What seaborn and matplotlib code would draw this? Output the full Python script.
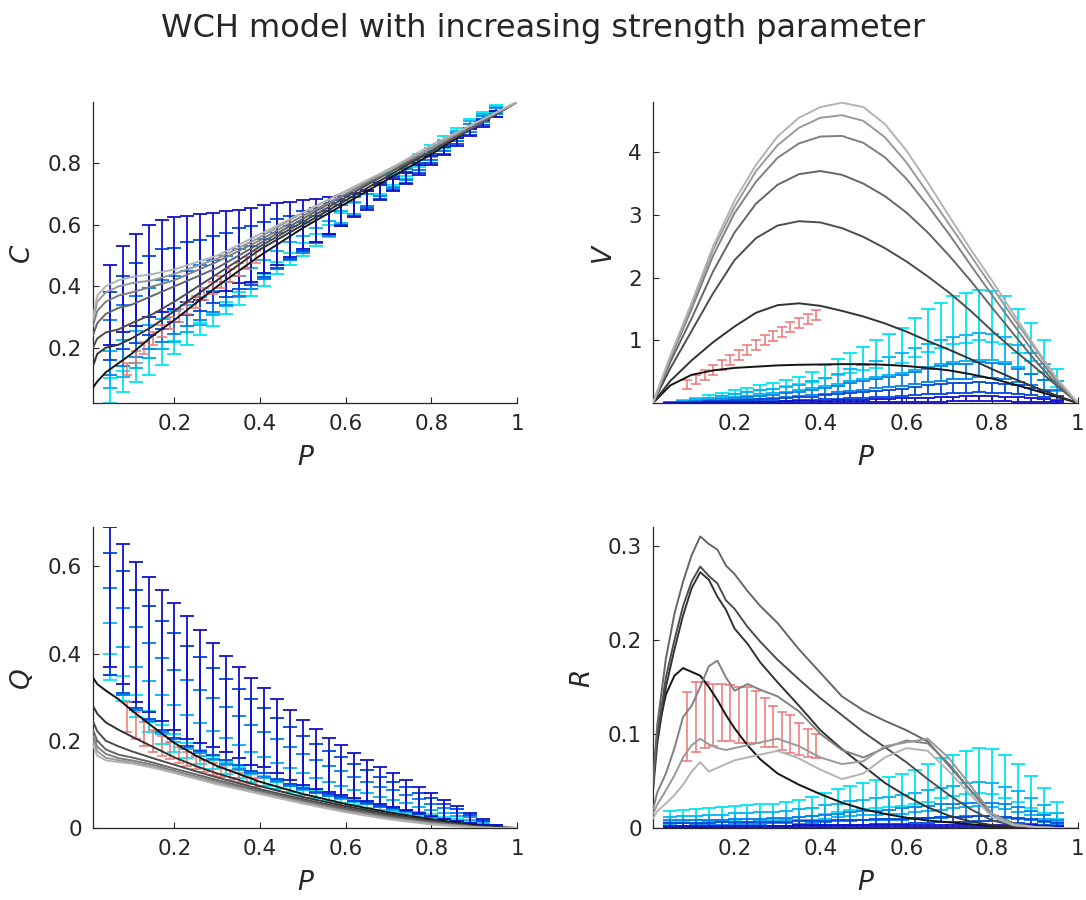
import matplotlib
matplotlib.use("Agg")
import matplotlib.pyplot as plt
import seaborn as sns

# ---------------- data ----------------
# bin centres of the simulated (blue) error bars, shared by all panels
p_bins = [0.05, 0.08, 0.11, 0.14, 0.17, 0.20, 0.23, 0.26, 0.29, 0.32, 0.35, 0.38, 0.41, 0.44, 0.47, 0.50,
          0.53, 0.56, 0.59, 0.62, 0.65, 0.68, 0.71, 0.74, 0.77, 0.80, 0.83, 0.86, 0.89, 0.92, 0.95]
# bin centres of the empirical (red) error bars
p_red = [0.09, 0.11, 0.13, 0.15, 0.17, 0.19, 0.21, 0.23, 0.25, 0.27, 0.29, 0.31, 0.33, 0.35, 0.37, 0.39]

# --- panel C ---
p_c = [0.01, 0.02, 0.04, 0.07, 0.1, 0.15, 0.2, 0.3, 0.4, 0.5, 0.6, 0.7, 0.8, 0.9, 1.0]
c_model = [
    [0.07, 0.09, 0.12, 0.15, 0.18, 0.24, 0.29, 0.40, 0.50, 0.59, 0.67, 0.75, 0.83, 0.92, 1.0],
    [0.14, 0.18, 0.20, 0.21, 0.23, 0.27, 0.32, 0.42, 0.52, 0.60, 0.68, 0.76, 0.84, 0.92, 1.0],
    [0.20, 0.23, 0.25, 0.26, 0.28, 0.31, 0.35, 0.44, 0.53, 0.61, 0.69, 0.77, 0.84, 0.92, 1.0],
    [0.24, 0.28, 0.31, 0.33, 0.34, 0.37, 0.40, 0.46, 0.54, 0.62, 0.70, 0.77, 0.85, 0.92, 1.0],
    [0.27, 0.32, 0.35, 0.37, 0.38, 0.40, 0.42, 0.48, 0.55, 0.63, 0.70, 0.78, 0.85, 0.93, 1.0],
    [0.29, 0.35, 0.38, 0.40, 0.41, 0.42, 0.44, 0.49, 0.56, 0.64, 0.71, 0.78, 0.85, 0.93, 1.0],
    [0.30, 0.37, 0.40, 0.42, 0.43, 0.44, 0.455, 0.50, 0.57, 0.64, 0.71, 0.78, 0.86, 0.93, 1.0],
]
c_blue_mean = [
    [0.06, 0.09, 0.12, 0.14, 0.17, 0.20, 0.23, 0.26, 0.29, 0.33, 0.36, 0.39, 0.42, 0.46, 0.49, 0.52,
     0.55, 0.58, 0.62, 0.65, 0.68, 0.72, 0.75, 0.78, 0.81, 0.84, 0.87, 0.90, 0.93, 0.955, 0.98],
    [0.13, 0.165, 0.195, 0.22, 0.245, 0.27, 0.295, 0.32, 0.345, 0.375, 0.40, 0.425, 0.455, 0.485, 0.515, 0.54,
     0.565, 0.59, 0.625, 0.655, 0.68, 0.715, 0.745, 0.77, 0.80, 0.83, 0.86, 0.89, 0.925, 0.95, 0.975],
    [0.20, 0.24, 0.27, 0.295, 0.32, 0.34, 0.36, 0.38, 0.40, 0.42, 0.445, 0.46, 0.49, 0.515, 0.54, 0.56,
     0.585, 0.605, 0.63, 0.66, 0.685, 0.715, 0.74, 0.765, 0.795, 0.825, 0.855, 0.885, 0.915, 0.945, 0.97],
    [0.27, 0.315, 0.345, 0.37, 0.39, 0.405, 0.425, 0.435, 0.455, 0.47, 0.49, 0.50, 0.52, 0.54, 0.56, 0.58,
     0.60, 0.62, 0.64, 0.665, 0.685, 0.71, 0.735, 0.755, 0.785, 0.815, 0.845, 0.875, 0.905, 0.935, 0.96],
    [0.34, 0.39, 0.42, 0.45, 0.465, 0.475, 0.49, 0.495, 0.51, 0.515, 0.53, 0.535, 0.555, 0.57, 0.585, 0.60,
     0.615, 0.63, 0.645, 0.665, 0.68, 0.705, 0.73, 0.75, 0.78, 0.81, 0.84, 0.87, 0.90, 0.93, 0.96],
]
c_blue_err = [
    [0.04, 0.035, 0.03, 0.028, 0.025, 0.022, 0.02, 0.02, 0.02, 0.02, 0.02, 0.02, 0.02, 0.02, 0.02, 0.02,
     0.02, 0.02, 0.02, 0.02, 0.02, 0.02, 0.02, 0.02, 0.02, 0.02, 0.018, 0.016, 0.014, 0.012, 0.01],
    [0.06, 0.06, 0.06, 0.055, 0.05, 0.05, 0.045, 0.045, 0.04, 0.04, 0.035, 0.035, 0.03, 0.03, 0.028, 0.025,
     0.025, 0.022, 0.02, 0.02, 0.02, 0.02, 0.02, 0.02, 0.02, 0.02, 0.018, 0.016, 0.014, 0.012, 0.01],
    [0.09, 0.10, 0.10, 0.10, 0.10, 0.095, 0.09, 0.09, 0.085, 0.08, 0.075, 0.07, 0.065, 0.06, 0.055, 0.05,
     0.045, 0.04, 0.035, 0.03, 0.025, 0.02, 0.02, 0.018, 0.016, 0.015, 0.014, 0.013, 0.012, 0.011, 0.01],
    [0.11, 0.12, 0.13, 0.13, 0.13, 0.12, 0.12, 0.115, 0.11, 0.105, 0.10, 0.095, 0.09, 0.08, 0.07, 0.065,
     0.055, 0.05, 0.04, 0.035, 0.03, 0.025, 0.02, 0.018, 0.016, 0.015, 0.014, 0.013, 0.012, 0.011, 0.01],
    [0.13, 0.14, 0.15, 0.15, 0.15, 0.15, 0.14, 0.14, 0.13, 0.13, 0.12, 0.12, 0.11, 0.10, 0.09, 0.08,
     0.07, 0.06, 0.05, 0.04, 0.03, 0.025, 0.02, 0.018, 0.016, 0.015, 0.014, 0.013, 0.012, 0.011, 0.01],
]
c_red = [0.13, 0.17, 0.20, 0.23, 0.255, 0.28, 0.305, 0.33, 0.35, 0.375, 0.395, 0.415, 0.435, 0.455, 0.475, 0.495]
c_red_err = [0.02, 0.02, 0.02, 0.02, 0.02, 0.02, 0.02, 0.02, 0.02, 0.02, 0.02, 0.02, 0.02, 0.02, 0.02, 0.02]

# --- panel V ---
p_v = [0.01, 0.05, 0.1, 0.15, 0.2, 0.25, 0.3, 0.35, 0.4, 0.45, 0.5, 0.55, 0.6, 0.65, 0.7, 0.75, 0.8, 0.85, 0.9, 0.95, 1.0]
v_model = [
    [0, 0.28, 0.45, 0.52, 0.56, 0.58, 0.60, 0.61, 0.615, 0.62, 0.62, 0.61, 0.59, 0.56, 0.52, 0.46, 0.39, 0.30, 0.20, 0.10, 0],
    [0, 0.35, 0.68, 0.97, 1.22, 1.44, 1.56, 1.59, 1.55, 1.47, 1.38, 1.27, 1.14, 0.99, 0.85, 0.70, 0.54, 0.39, 0.25, 0.12, 0],
    [0, 0.55, 1.15, 1.75, 2.28, 2.63, 2.83, 2.90, 2.88, 2.79, 2.65, 2.47, 2.26, 2.02, 1.76, 1.47, 1.15, 0.85, 0.57, 0.28, 0],
    [0, 0.65, 1.35, 2.10, 2.72, 3.18, 3.48, 3.65, 3.70, 3.64, 3.50, 3.30, 3.04, 2.72, 2.35, 1.95, 1.52, 1.10, 0.68, 0.30, 0],
    [0, 0.70, 1.50, 2.35, 3.03, 3.53, 3.91, 4.14, 4.25, 4.26, 4.15, 3.92, 3.58, 3.15, 2.69, 2.20, 1.72, 1.25, 0.78, 0.35, 0],
    [0, 0.72, 1.55, 2.45, 3.13, 3.70, 4.11, 4.39, 4.55, 4.59, 4.50, 4.24, 3.84, 3.35, 2.85, 2.35, 1.85, 1.35, 0.87, 0.38, 0],
    [0, 0.75, 1.60, 2.50, 3.23, 3.80, 4.25, 4.55, 4.72, 4.79, 4.72, 4.45, 4.03, 3.52, 2.98, 2.45, 1.95, 1.42, 0.90, 0.40, 0],
]
v_blue_mean = [
    [0.015, 0.04, 0.065, 0.10, 0.135, 0.17, 0.205, 0.24, 0.275, 0.32, 0.36, 0.42, 0.50, 0.57, 0.64, 0.71,
     0.78, 0.85, 0.92, 1.04, 1.16, 1.24, 1.32, 1.35, 1.40, 1.38, 1.32, 1.15, 0.97, 0.75, 0.40],
    [0.01, 0.028, 0.045, 0.07, 0.095, 0.12, 0.145, 0.17, 0.19, 0.22, 0.25, 0.29, 0.34, 0.39, 0.44, 0.49,
     0.54, 0.59, 0.64, 0.70, 0.76, 0.81, 0.86, 0.88, 0.90, 0.89, 0.85, 0.75, 0.63, 0.49, 0.27],
    [0.006, 0.016, 0.026, 0.04, 0.055, 0.068, 0.082, 0.095, 0.108, 0.125, 0.14, 0.165, 0.195, 0.225, 0.255, 0.28,
     0.31, 0.335, 0.36, 0.40, 0.44, 0.47, 0.50, 0.51, 0.53, 0.52, 0.50, 0.44, 0.37, 0.29, 0.16],
    [0.003, 0.008, 0.013, 0.019, 0.026, 0.032, 0.039, 0.045, 0.052, 0.06, 0.067, 0.078, 0.092, 0.105, 0.118, 0.13,
     0.145, 0.158, 0.17, 0.19, 0.21, 0.225, 0.24, 0.245, 0.25, 0.245, 0.235, 0.21, 0.18, 0.14, 0.08],
    [0.001, 0.002, 0.004, 0.005, 0.007, 0.009, 0.011, 0.012, 0.014, 0.016, 0.018, 0.021, 0.025, 0.028, 0.032, 0.035,
     0.039, 0.042, 0.046, 0.05, 0.055, 0.06, 0.064, 0.066, 0.068, 0.066, 0.063, 0.056, 0.048, 0.038, 0.022],
]
v_blue_err = [
    [0.005, 0.01, 0.015, 0.02, 0.025, 0.03, 0.035, 0.04, 0.045, 0.05, 0.06, 0.08, 0.10, 0.13, 0.16, 0.19,
     0.22, 0.25, 0.28, 0.31, 0.34, 0.36, 0.38, 0.40, 0.40, 0.40, 0.38, 0.35, 0.30, 0.25, 0.15],
    [0.004, 0.008, 0.012, 0.016, 0.02, 0.024, 0.028, 0.032, 0.036, 0.04, 0.045, 0.055, 0.065, 0.08, 0.095, 0.11,
     0.125, 0.14, 0.155, 0.17, 0.18, 0.19, 0.20, 0.21, 0.21, 0.21, 0.20, 0.18, 0.16, 0.13, 0.08],
    [0.003, 0.006, 0.009, 0.012, 0.015, 0.018, 0.021, 0.024, 0.027, 0.03, 0.033, 0.038, 0.045, 0.052, 0.06, 0.068,
     0.076, 0.084, 0.09, 0.10, 0.11, 0.115, 0.12, 0.12, 0.12, 0.12, 0.115, 0.105, 0.09, 0.075, 0.05],
    [0.002, 0.004, 0.006, 0.008, 0.01, 0.012, 0.014, 0.016, 0.018, 0.02, 0.022, 0.025, 0.03, 0.035, 0.04, 0.045,
     0.05, 0.055, 0.06, 0.065, 0.07, 0.075, 0.08, 0.08, 0.08, 0.08, 0.075, 0.07, 0.06, 0.05, 0.035],
    [0.001, 0.002, 0.003, 0.004, 0.005, 0.006, 0.007, 0.008, 0.009, 0.01, 0.011, 0.013, 0.015, 0.017, 0.019, 0.021,
     0.023, 0.025, 0.027, 0.03, 0.033, 0.036, 0.038, 0.04, 0.04, 0.04, 0.038, 0.035, 0.03, 0.025, 0.018],
]
v_red = [0.29, 0.37, 0.45, 0.53, 0.61, 0.69, 0.77, 0.85, 0.93, 1.00, 1.07, 1.14, 1.21, 1.28, 1.34, 1.40]
v_red_err = [0.07, 0.07, 0.08, 0.08, 0.08, 0.08, 0.08, 0.08, 0.08, 0.08, 0.08, 0.08, 0.08, 0.08, 0.08, 0.08]

# --- panel Q ---
p_q = [0.01, 0.02, 0.04, 0.07, 0.1, 0.15, 0.2, 0.25, 0.3, 0.4, 0.5, 0.6, 0.7, 0.8, 0.9, 0.95, 1.0]
q_model = [
    [0.345, 0.33, 0.315, 0.295, 0.27, 0.232, 0.195, 0.166, 0.142, 0.106, 0.078, 0.055, 0.036, 0.02, 0.007, 0.002, 0.0],
    [0.28, 0.262, 0.242, 0.225, 0.21, 0.186, 0.162, 0.142, 0.125, 0.096, 0.071, 0.05, 0.032, 0.017, 0.005, 0.001, 0.0],
    [0.245, 0.222, 0.20, 0.187, 0.176, 0.16, 0.145, 0.13, 0.116, 0.089, 0.066, 0.046, 0.029, 0.015, 0.004, 0.001, 0.0],
    [0.225, 0.20, 0.18, 0.168, 0.162, 0.15, 0.136, 0.123, 0.11, 0.085, 0.063, 0.043, 0.026, 0.013, 0.003, 0.0, 0.0],
    [0.212, 0.186, 0.17, 0.16, 0.155, 0.145, 0.131, 0.118, 0.106, 0.082, 0.06, 0.04, 0.024, 0.011, 0.002, 0.0, 0.0],
    [0.20, 0.176, 0.161, 0.155, 0.151, 0.141, 0.128, 0.115, 0.103, 0.08, 0.058, 0.038, 0.022, 0.01, 0.002, 0.0, 0.0],
    [0.19, 0.166, 0.155, 0.151, 0.148, 0.138, 0.126, 0.113, 0.10, 0.078, 0.056, 0.036, 0.02, 0.008, 0.001, 0.0, 0.0],
]
q_blue_mean = [
    [0.37, 0.32, 0.28, 0.245, 0.215, 0.195, 0.178, 0.163, 0.15, 0.138, 0.127, 0.117, 0.108, 0.10, 0.092, 0.085,
     0.078, 0.071, 0.065, 0.059, 0.053, 0.047, 0.042, 0.037, 0.032, 0.027, 0.022, 0.017, 0.012, 0.007, 0.003],
    [0.41, 0.36, 0.32, 0.29, 0.26, 0.24, 0.22, 0.203, 0.189, 0.175, 0.162, 0.149, 0.138, 0.128, 0.117, 0.107,
     0.098, 0.089, 0.082, 0.074, 0.067, 0.059, 0.053, 0.047, 0.04, 0.034, 0.027, 0.021, 0.015, 0.009, 0.003],
    [0.45, 0.405, 0.365, 0.335, 0.305, 0.283, 0.262, 0.244, 0.228, 0.212, 0.196, 0.181, 0.169, 0.155, 0.141, 0.129,
     0.118, 0.108, 0.099, 0.09, 0.081, 0.072, 0.065, 0.057, 0.049, 0.041, 0.033, 0.025, 0.018, 0.01, 0.003],
    [0.49, 0.45, 0.41, 0.38, 0.35, 0.327, 0.303, 0.284, 0.267, 0.248, 0.231, 0.213, 0.20, 0.183, 0.166, 0.151,
     0.138, 0.127, 0.116, 0.105, 0.095, 0.084, 0.076, 0.066, 0.057, 0.048, 0.038, 0.029, 0.02, 0.011, 0.003],
    [0.53, 0.49, 0.45, 0.42, 0.395, 0.37, 0.345, 0.325, 0.305, 0.285, 0.265, 0.245, 0.23, 0.21, 0.19, 0.173,
     0.158, 0.145, 0.133, 0.12, 0.108, 0.097, 0.087, 0.076, 0.065, 0.054, 0.043, 0.033, 0.023, 0.013, 0.003],
]
q_blue_err = [
    [0.03, 0.028, 0.026, 0.024, 0.022, 0.02, 0.018, 0.016, 0.015, 0.014, 0.013, 0.012, 0.011, 0.01, 0.01, 0.009,
     0.009, 0.008, 0.008, 0.007, 0.007, 0.006, 0.006, 0.005, 0.005, 0.004, 0.004, 0.003, 0.003, 0.002, 0.002],
    [0.06, 0.055, 0.05, 0.048, 0.045, 0.042, 0.04, 0.037, 0.034, 0.031, 0.028, 0.026, 0.024, 0.022, 0.02, 0.019,
     0.017, 0.016, 0.015, 0.014, 0.013, 0.012, 0.011, 0.01, 0.009, 0.008, 0.007, 0.006, 0.004, 0.003, 0.002],
    [0.10, 0.10, 0.095, 0.09, 0.085, 0.08, 0.077, 0.073, 0.069, 0.065, 0.06, 0.056, 0.052, 0.048, 0.044, 0.04,
     0.037, 0.034, 0.031, 0.028, 0.025, 0.023, 0.021, 0.019, 0.017, 0.015, 0.012, 0.01, 0.008, 0.005, 0.002],
    [0.14, 0.14, 0.135, 0.13, 0.125, 0.12, 0.115, 0.108, 0.10, 0.093, 0.087, 0.082, 0.075, 0.07, 0.065, 0.06,
     0.055, 0.05, 0.046, 0.042, 0.038, 0.034, 0.03, 0.027, 0.024, 0.021, 0.017, 0.014, 0.01, 0.006, 0.003],
    [0.16, 0.16, 0.16, 0.155, 0.15, 0.145, 0.14, 0.13, 0.12, 0.11, 0.105, 0.10, 0.09, 0.085, 0.08, 0.075,
     0.068, 0.062, 0.057, 0.052, 0.047, 0.043, 0.038, 0.034, 0.03, 0.026, 0.022, 0.017, 0.012, 0.007, 0.003],
]
q_red = [0.255, 0.235, 0.215, 0.20, 0.188, 0.178, 0.168, 0.158, 0.15, 0.142, 0.135, 0.128, 0.122, 0.116, 0.11, 0.105]
q_red_err = [0.035, 0.03, 0.028, 0.025, 0.022, 0.02, 0.018, 0.016, 0.015, 0.014, 0.013, 0.012, 0.011, 0.01, 0.01, 0.01]

# --- panel R ---
p_r = [0.01, 0.02, 0.04, 0.06, 0.08, 0.1, 0.12, 0.14, 0.16, 0.18, 0.2, 0.23, 0.26, 0.3,
       0.35, 0.4, 0.45, 0.5, 0.55, 0.6, 0.65, 0.7, 0.75, 0.8, 0.85, 0.9, 0.95, 1.0]
r_model = [
    [0.05, 0.10, 0.142, 0.162, 0.17, 0.166, 0.162, 0.15, 0.136, 0.12, 0.106, 0.088, 0.073, 0.058,
     0.046, 0.036, 0.027, 0.02, 0.015, 0.011, 0.008, 0.006, 0.004, 0.002, 0.001, 0.0005, 0.0, 0.0],
    [0.04, 0.09, 0.15, 0.19, 0.226, 0.255, 0.272, 0.264, 0.246, 0.232, 0.212, 0.196, 0.176, 0.155,
     0.13, 0.104, 0.084, 0.066, 0.048, 0.034, 0.022, 0.013, 0.007, 0.003, 0.001, 0.0, 0.0, 0.0],
    [0.045, 0.10, 0.16, 0.20, 0.236, 0.262, 0.278, 0.268, 0.26, 0.242, 0.233, 0.214, 0.198, 0.179,
     0.158, 0.138, 0.12, 0.102, 0.086, 0.07, 0.052, 0.035, 0.02, 0.008, 0.003, 0.001, 0.0, 0.0],
    [0.05, 0.11, 0.18, 0.228, 0.262, 0.29, 0.31, 0.302, 0.296, 0.279, 0.27, 0.252, 0.236, 0.218,
     0.19, 0.165, 0.14, 0.125, 0.114, 0.104, 0.092, 0.066, 0.04, 0.015, 0.005, 0.001, 0.0, 0.0],
    [0.02, 0.038, 0.058, 0.085, 0.118, 0.13, 0.15, 0.172, 0.178, 0.16, 0.146, 0.153, 0.147, 0.14,
     0.124, 0.10, 0.083, 0.075, 0.085, 0.093, 0.09, 0.068, 0.04, 0.012, 0.003, 0.001, 0.0, 0.0],
    [0.015, 0.025, 0.04, 0.056, 0.075, 0.088, 0.095, 0.089, 0.085, 0.083, 0.085, 0.088, 0.091, 0.095,
     0.087, 0.075, 0.068, 0.071, 0.087, 0.091, 0.095, 0.074, 0.045, 0.015, 0.004, 0.001, 0.0, 0.0],
    [0.01, 0.018, 0.026, 0.035, 0.046, 0.06, 0.07, 0.06, 0.064, 0.068, 0.072, 0.075, 0.078, 0.082,
     0.074, 0.062, 0.052, 0.058, 0.075, 0.085, 0.082, 0.06, 0.035, 0.012, 0.003, 0.001, 0.0, 0.0],
]
r_blue_mean = [
    [0.012, 0.013, 0.014, 0.015, 0.015, 0.016, 0.017, 0.017, 0.018, 0.019, 0.021, 0.023, 0.026, 0.029, 0.032, 0.034,
     0.036, 0.038, 0.04, 0.044, 0.048, 0.053, 0.056, 0.059, 0.061, 0.06, 0.055, 0.048, 0.038, 0.029, 0.019],
    [0.008, 0.009, 0.009, 0.01, 0.01, 0.011, 0.011, 0.012, 0.012, 0.013, 0.014, 0.015, 0.017, 0.019, 0.021, 0.022,
     0.023, 0.024, 0.025, 0.027, 0.029, 0.031, 0.033, 0.035, 0.036, 0.035, 0.032, 0.028, 0.023, 0.017, 0.011],
    [0.005, 0.005, 0.006, 0.006, 0.006, 0.007, 0.007, 0.007, 0.008, 0.008, 0.008, 0.009, 0.01, 0.011, 0.012, 0.013,
     0.013, 0.014, 0.015, 0.016, 0.017, 0.018, 0.019, 0.02, 0.02, 0.02, 0.018, 0.016, 0.013, 0.01, 0.006],
    [0.003, 0.003, 0.003, 0.003, 0.004, 0.004, 0.004, 0.004, 0.004, 0.004, 0.005, 0.005, 0.005, 0.006, 0.006, 0.006,
     0.007, 0.007, 0.007, 0.008, 0.008, 0.009, 0.009, 0.009, 0.01, 0.01, 0.009, 0.008, 0.007, 0.005, 0.003],
    [0.001, 0.001, 0.001, 0.001, 0.001, 0.001, 0.001, 0.001, 0.001, 0.001, 0.002, 0.002, 0.002, 0.002, 0.002, 0.002,
     0.002, 0.002, 0.002, 0.002, 0.002, 0.002, 0.002, 0.002, 0.002, 0.002, 0.002, 0.002, 0.002, 0.001, 0.001],
]
r_blue_err = [
    [0.006, 0.006, 0.006, 0.006, 0.007, 0.007, 0.007, 0.008, 0.008, 0.009, 0.009, 0.01, 0.011, 0.012, 0.013, 0.014,
     0.015, 0.016, 0.017, 0.018, 0.02, 0.021, 0.022, 0.023, 0.024, 0.024, 0.023, 0.02, 0.017, 0.013, 0.009],
    [0.004, 0.004, 0.004, 0.004, 0.004, 0.005, 0.005, 0.005, 0.005, 0.005, 0.006, 0.006, 0.007, 0.007, 0.008, 0.008,
     0.009, 0.009, 0.01, 0.01, 0.011, 0.012, 0.012, 0.013, 0.013, 0.013, 0.012, 0.011, 0.009, 0.007, 0.005],
    [0.003, 0.003, 0.003, 0.003, 0.003, 0.003, 0.003, 0.003, 0.003, 0.003, 0.004, 0.004, 0.004, 0.004, 0.005, 0.005,
     0.005, 0.005, 0.006, 0.006, 0.006, 0.007, 0.007, 0.007, 0.007, 0.007, 0.007, 0.006, 0.005, 0.004, 0.003],
    [0.002, 0.002, 0.002, 0.002, 0.002, 0.002, 0.002, 0.002, 0.002, 0.002, 0.002, 0.002, 0.002, 0.003, 0.003, 0.003,
     0.003, 0.003, 0.003, 0.003, 0.003, 0.003, 0.003, 0.003, 0.003, 0.003, 0.003, 0.003, 0.003, 0.002, 0.002],
    [0.001, 0.001, 0.001, 0.001, 0.001, 0.001, 0.001, 0.001, 0.001, 0.001, 0.001, 0.001, 0.001, 0.001, 0.001, 0.001,
     0.001, 0.001, 0.001, 0.001, 0.001, 0.001, 0.001, 0.001, 0.001, 0.001, 0.001, 0.001, 0.001, 0.001, 0.001],
]
r_red = [0.108, 0.118, 0.12, 0.12, 0.123, 0.122, 0.12, 0.12, 0.118, 0.112, 0.108, 0.103, 0.10, 0.095, 0.09, 0.087]
r_red_err = [0.037, 0.037, 0.035, 0.033, 0.03, 0.03, 0.03, 0.03, 0.028, 0.026, 0.022, 0.02, 0.02, 0.017, 0.015, 0.013]

x_ticks = [0.2, 0.4, 0.6, 0.8, 1.0]
x_tick_labels = ["0.2", "0.4", "0.6", "0.8", "1"]
c_ticks, c_tick_labels = [0.2, 0.4, 0.6, 0.8], ["0.2", "0.4", "0.6", "0.8"]
v_ticks, v_tick_labels = [1, 2, 3, 4], ["1", "2", "3", "4"]
q_ticks, q_tick_labels = [0, 0.2, 0.4, 0.6], ["0", "0.2", "0.4", "0.6"]
r_ticks, r_tick_labels = [0, 0.1, 0.2, 0.3], ["0", "0.1", "0.2", "0.3"]

# ---------------- styling ----------------
sns.set_theme(style="ticks")
plt.rcParams["font.family"] = ["DejaVu Sans"]
text_col = "#262626"

blue_cols = ["#00e6f0", "#00b4f0", "#0080ea", "#0046dc", "#1010c8"]
gray_cols = ["0.08", "0.2", "0.3", "0.4", "0.5", "0.6", "0.7"]
red_col = "#ee7474"

fig = plt.figure(figsize=(10.86, 9.0), dpi=100)
ax_c = fig.add_axes([0.0856, 0.5522, 0.3905, 0.3344])
ax_v = fig.add_axes([0.6013, 0.5522, 0.3913, 0.3344])
ax_q = fig.add_axes([0.0856, 0.0800, 0.3905, 0.3344])
ax_r = fig.add_axes([0.6013, 0.0800, 0.3913, 0.3344])


def draw_panel(ax, p_model, model, blue_mean, blue_err, red_mean, red_err,
               ylabel, ylim, yticks, ytick_labels):
    for mean, err, col in zip(blue_mean, blue_err, blue_cols):
        ax.errorbar(p_bins, mean, yerr=err, fmt="none", ecolor=col,
                    elinewidth=1.3, capsize=5, capthick=1.3, zorder=2)
    ax.errorbar(p_red, red_mean, yerr=red_err, fmt="none", ecolor=red_col,
                elinewidth=1.1, capsize=3.5, capthick=1.1, zorder=3)
    for line, g in zip(model, gray_cols):
        sns.lineplot(x=p_model, y=line, color=g, linewidth=1.4, ax=ax,
                     legend=False, sort=False, estimator=None, zorder=4)

    ax.set_xlim(0.01, 1.0)
    ax.set_ylim(*ylim)
    ax.set_xticks(x_ticks)
    ax.set_xticklabels(x_tick_labels)
    ax.set_yticks(yticks)
    ax.set_yticklabels(ytick_labels)
    ax.set_xlabel("P", fontsize=19, fontstyle="italic", color=text_col, labelpad=8)
    ax.set_ylabel(ylabel, fontsize=19, fontstyle="italic", color=text_col, labelpad=9)
    ax.tick_params(direction="in", length=4, width=0.8, labelsize=15.5,
                   colors=text_col, pad=8)
    sns.despine(ax=ax)
    for s in ("left", "bottom"):
        ax.spines[s].set_color(text_col)
        ax.spines[s].set_linewidth(0.9)


draw_panel(ax_c, p_c, c_model, c_blue_mean, c_blue_err, c_red, c_red_err,
           "C", (0.02, 1.0), c_ticks, c_tick_labels)
draw_panel(ax_v, p_v, v_model, v_blue_mean, v_blue_err, v_red, v_red_err,
           "V", (0, 4.8), v_ticks, v_tick_labels)
draw_panel(ax_q, p_q, q_model, q_blue_mean, q_blue_err, q_red, q_red_err,
           "Q", (0, 0.69), q_ticks, q_tick_labels)
draw_panel(ax_r, p_r, r_model, r_blue_mean, r_blue_err, r_red, r_red_err,
           "R", (0, 0.32), r_ticks, r_tick_labels)

fig.suptitle("WCH model with increasing strength parameter", fontsize=23,
             color=text_col, y=0.986, va="top")

fig.savefig("out.png", dpi=100)
